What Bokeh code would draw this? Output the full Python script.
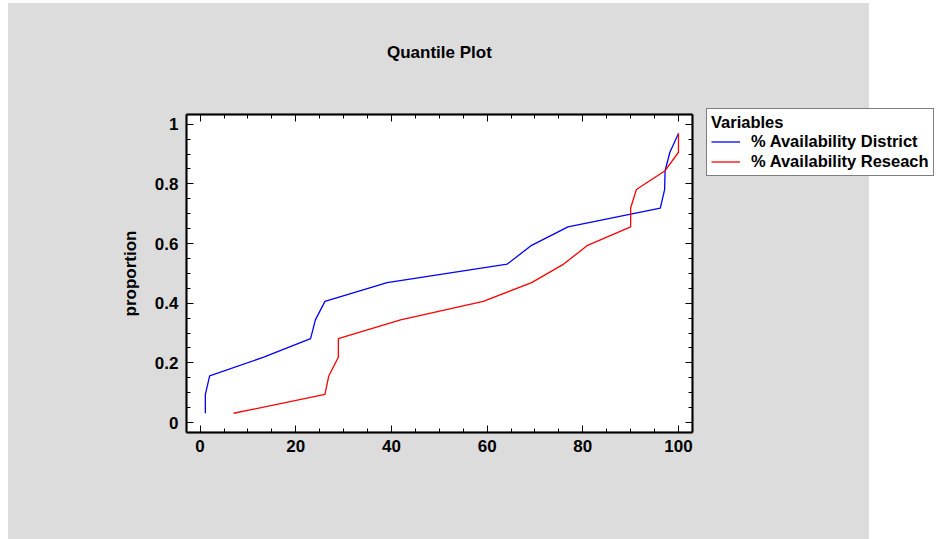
from bokeh.plotting import figure
from bokeh.models import (Range1d, LinearAxis, SingleIntervalTicker, Legend,
                          LegendItem, Label, BoxAnnotation)
from bokeh.embed import file_html
from bokeh.resources import INLINE

# ---- data ----
proportion = [0.031, 0.094, 0.156, 0.219, 0.281, 0.344, 0.406, 0.469,
              0.531, 0.594, 0.656, 0.719, 0.781, 0.844, 0.906, 0.969]
district = [1.1, 1.1, 2.0, 13.3, 23.1, 24.1, 26.1, 39.1,
            64.2, 69.3, 76.9, 96.2, 97.1, 97.2, 98.2, 100.0]
research = [7.0, 26.1, 26.9, 28.9, 28.9, 41.9, 59.2, 69.3,
            76.0, 81.0, 90.0, 90.0, 91.2, 97.2, 100.0, 100.0]
series_names = ["% Availability District", "% Availability Reseach"]
series_colors = ["#0000FF", "#FF0000"]
title_text = "Quantile Plot"
y_label = "proportion"
legend_title = "Variables"

FONT = "Liberation Sans"
GRAY = "#DCDCDC"

# plot box (axis limits)
bx0, bx1 = -2.84, 102.9
by0, by1 = -0.0335, 1.0325
# whole-canvas ranges so that the box sits at the reference position
x_start, x_end = -41.72, 154.35
y_start, y_end = -0.3922, 1.4147

p = figure(width=938, height=539, output_backend="svg", toolbar_location=None,
           x_range=Range1d(x_start, x_end), y_range=Range1d(y_start, y_end),
           x_axis_type=None, y_axis_type=None,
           min_border_left=0, min_border_right=0,
           min_border_top=0, min_border_bottom=0,
           border_fill_color=None, background_fill_color=None,
           outline_line_color=None)
# gray panel with white page margins around it
p.styles = {"background": "linear-gradient(%s, %s) 8px 3px / 861px 536px no-repeat, #FFFFFF" % (GRAY, GRAY)}

# white plotting area with black frame
p.add_layout(BoxAnnotation(left=bx0, right=bx1, bottom=by0, top=by1,
                           fill_color="white", fill_alpha=1,
                           line_color="black", line_width=2, level="underlay"))

xt = SingleIntervalTicker(interval=20, num_minor_ticks=4)
yt = SingleIntervalTicker(interval=0.2, num_minor_ticks=4)


def style(ax, show_labels):
    ax.axis_line_color = "black"
    ax.axis_line_width = 2
    ax.major_tick_in = 7
    ax.major_tick_out = 0
    ax.minor_tick_in = 4
    ax.minor_tick_out = 0
    ax.major_tick_line_color = "black"
    ax.minor_tick_line_color = "black"
    ax.major_tick_line_width = 1
    ax.minor_tick_line_width = 1
    ax.major_label_text_font = FONT
    ax.major_label_text_font_style = "bold"
    ax.axis_label_text_font = FONT
    ax.axis_label_text_font_style = "bold"
    ax.axis_label_text_font_size = "17px"
    ax.axis_label_text_color = "black"
    if show_labels:
        ax.major_label_text_font_size = "17px"
        ax.major_label_text_color = "black"
        ax.major_label_standoff = 8
    else:
        ax.major_label_text_font_size = "0px"
        ax.major_label_text_color = None
        ax.major_label_standoff = 0


xb = LinearAxis(ticker=xt, fixed_location=by0, bounds=(bx0, bx1))
style(xb, True)
p.add_layout(xb, "below")
xa = LinearAxis(ticker=xt, fixed_location=by1, bounds=(bx0, bx1))
style(xa, False)
p.add_layout(xa, "above")

yl = LinearAxis(ticker=yt, axis_label=y_label, fixed_location=bx0, bounds=(by0, by1))
style(yl, True)
yl.axis_label_standoff = 12
p.add_layout(yl, "left")
yr = LinearAxis(ticker=yt, fixed_location=bx1, bounds=(by0, by1))
style(yr, False)
p.add_layout(yr, "right")

r1 = p.line(district, proportion, line_color=series_colors[0], line_width=1.3)
r2 = p.line(research, proportion, line_color=series_colors[1], line_width=1.3)

legend = Legend(items=[LegendItem(label=series_names[0], renderers=[r1]),
                       LegendItem(label=series_names[1], renderers=[r2])],
                title=legend_title, location=(706, 363),
                border_line_color="black", border_line_width=1.3,
                background_fill_color="white", background_fill_alpha=1,
                label_text_font=FONT, label_text_font_style="bold",
                label_text_font_size="16.5px", label_text_color="black",
                title_text_font=FONT, title_text_font_style="bold",
                title_text_font_size="16.5px", title_text_color="black",
                padding=4, margin=0, spacing=1, title_standoff=0,
                label_height=17, glyph_height=17, glyph_width=29,
                label_standoff=11)
p.add_layout(legend, "center")

p.add_layout(Label(x=(bx0 + bx1) / 2, y=1.24, text=title_text,
                   text_align="center", text_baseline="middle",
                   text_font=FONT, text_font_style="bold", text_font_size="17px",
                   text_color="black"))

open("out.html", "w").write(file_html(p, INLINE))
